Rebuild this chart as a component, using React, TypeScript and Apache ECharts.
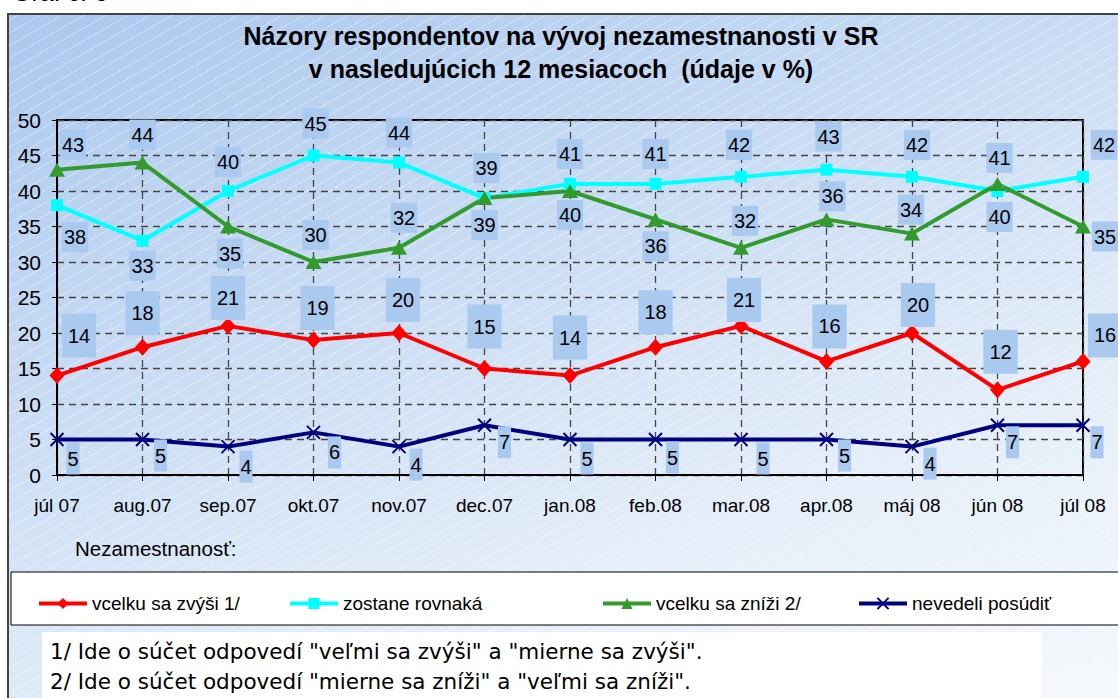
import React, { useEffect, useRef } from 'react';
import * as echarts from 'echarts';

const categories = ['júl 07', 'aug.07', 'sep.07', 'okt.07', 'nov.07', 'dec.07', 'jan.08', 'feb.08', 'mar.08', 'apr.08', 'máj 08', 'jún 08', 'júl 08'];
const seriesNames = ['vcelku sa zvýši 1/', 'zostane rovnaká', 'vcelku sa zníži 2/', 'nevedeli posúdiť'];
const increase = [14, 18, 21, 19, 20, 15, 14, 18, 21, 16, 20, 12, 16];
const same = [38, 33, 40, 45, 44, 39, 41, 41, 42, 43, 42, 40, 42];
const decrease = [43, 44, 35, 30, 32, 39, 40, 36, 32, 36, 34, 41, 35];
const unknown = [5, 5, 4, 6, 4, 7, 5, 5, 5, 5, 4, 7, 7];
const yMin = 0;
const yMax = 50;
const yStep = 5;

const chartLabel = 'Graf č. 6';
const titleLines = ['Názory respondentov na vývoj nezamestnanosti v SR', 'v nasledujúcich 12 mesiacoch  (údaje v %)'];
const subLabel = 'Nezamestnanosť:';
const footnotes = [
  '1/ Ide o súčet odpovedí "veľmi sa zvýši" a "mierne sa zvýši".',
  '2/ Ide o súčet odpovedí "mierne sa zníži" a "veľmi sa zníži".',
];

// label placement (styling), offset from each point
const increaseLabelOffsets = [[22, -40], [0, -34], [0, -28], [4, -32], [4, -33], [0, -42], [0, -38], [0, -35], [3, -26], [3, -35], [6, -28], [3, -38], [22, -26]];
const sameLabelOffsets = [[18, 32], [0, 25], [0, -29], [2, -32], [0, -30], [2, -30], [0, -30], [0, -30], [-2, -32], [2, -33], [5, -32], [2, 26], [21, -32]];
const decreaseLabelOffsets = [[16, -25], [0, -28], [2, 27], [2, -27], [5, -30], [0, 27], [0, 24], [0, 27], [4, -27], [6, -23], [-1, -24], [2, -26], [22, 10]];
const unknownLabelOffsets = [[16, 19], [18, 16], [18, 20], [21, 20], [17, 18], [20, 17], [17, 19], [17, 18], [22, 19], [18, 16], [18, 17], [15, 17], [14, 17]];

const FONT = 'Arial, "Liberation Sans", sans-serif';
const WIDE_FONT = '"DejaVu Sans", Arial, sans-serif';
const LABEL_BG = '#a9c9ef';

function withLabels(values: number[], offsets: number[][]) {
  return values.map((v, i) => ({ value: v, label: { offset: offsets[i] } }));
}

export default function App() {
  const ref = useRef<HTMLDivElement>(null);

  useEffect(() => {
    if (!ref.current) return;
    const chart = echarts.init(ref.current, undefined, { renderer: 'svg' });

    const baseLabel = {
      show: true,
      position: 'inside',
      color: '#000',
      fontSize: 20,
      fontFamily: FONT,
      backgroundColor: LABEL_BG,
    };

    const legendBase = {
      top: 589,
      itemWidth: 48,
      itemHeight: 14,
      lineStyle: { width: 4 },
      textStyle: { fontSize: 19, color: '#000', fontFamily: FONT },
      selectedMode: false,
    };

    chart.setOption({
      animation: false,
      backgroundColor: 'transparent',
      textStyle: { fontFamily: FONT },
      graphic: [
        {
          type: 'text',
          x: 12,
          y: 4,
          style: { text: chartLabel, fontSize: 25, fontFamily: FONT, fill: '#000', verticalAlign: 'bottom' },
          z: 10,
        },
        {
          type: 'rect',
          shape: { x: 11, y: 572, width: 1130, height: 53 },
          style: { fill: '#fff', stroke: '#000', lineWidth: 1 },
          z: -1,
        },
        {
          type: 'rect',
          shape: { x: 42, y: 632, width: 1000, height: 80 },
          style: { fill: '#fff' },
          z: -1,
        },
        {
          type: 'text',
          x: 75,
          y: 548,
          style: { text: subLabel, fontSize: 20.5, fontFamily: FONT, fill: '#000', verticalAlign: 'middle' },
        },
        {
          type: 'text',
          x: 50,
          y: 651,
          style: { text: footnotes[0], fontSize: 21.5, fontFamily: WIDE_FONT, fill: '#000', verticalAlign: 'middle' },
        },
        {
          type: 'text',
          x: 50,
          y: 681,
          style: { text: footnotes[1], fontSize: 21.5, fontFamily: WIDE_FONT, fill: '#000', verticalAlign: 'middle' },
        },
        {
          type: 'text',
          x: 561,
          y: 36,
          style: { text: titleLines[0], fontSize: 25, fontWeight: 'bold', fontFamily: FONT, fill: '#000', align: 'center', verticalAlign: 'middle' },
        },
        {
          type: 'text',
          x: 561,
          y: 69,
          style: { text: titleLines[1], fontSize: 25, fontWeight: 'bold', fontFamily: FONT, fill: '#000', align: 'center', verticalAlign: 'middle' },
        },
      ],
      legend: [
        { ...legendBase, left: 32, data: [seriesNames[0]] },
        { ...legendBase, left: 283, data: [seriesNames[1]] },
        { ...legendBase, left: 596, data: [seriesNames[2]] },
        { ...legendBase, left: 852, data: [seriesNames[3]] },
      ],
      grid: {
        left: 57,
        right: 35,
        top: 120,
        bottom: 223,
        show: true,
        borderColor: '#000',
        borderWidth: 2,
        backgroundColor: 'transparent',
      },
      xAxis: {
        type: 'category',
        data: categories,
        boundaryGap: false,
        axisLine: { show: true, lineStyle: { color: '#000', width: 2 } },
        axisTick: { show: true, length: 6, lineStyle: { color: '#000', width: 1 } },
        axisLabel: { color: '#000', fontSize: 19, margin: 21, fontFamily: FONT },
        splitLine: { show: true, lineStyle: { color: '#444', width: 1.3, type: [7, 5] } },
      },
      yAxis: {
        type: 'value',
        min: yMin,
        max: yMax,
        interval: yStep,
        axisLine: { show: true, lineStyle: { color: '#000', width: 2 } },
        axisTick: { show: true, length: 5, lineStyle: { color: '#000', width: 1 } },
        axisLabel: { color: '#000', fontSize: 21, margin: 16, fontFamily: FONT },
        splitLine: { show: true, lineStyle: { color: '#444', width: 1.3, type: [7, 5] } },
      },
      series: [
        {
          name: seriesNames[0],
          type: 'line',
          data: withLabels(increase, increaseLabelOffsets),
          symbol: 'diamond',
          symbolSize: [15, 17],
          itemStyle: { color: '#ff0000' },
          lineStyle: { color: '#ff0000', width: 4 },
          label: { ...baseLabel, padding: [13, 6, 11, 6] },
          z: 3,
        },
        {
          name: seriesNames[1],
          type: 'line',
          data: withLabels(same, sameLabelOffsets),
          symbol: 'rect',
          symbolSize: 12,
          itemStyle: { color: '#00ffff' },
          lineStyle: { color: '#00ffff', width: 4 },
          label: { ...baseLabel, padding: [6, 2, 4, 2] },
          z: 3,
        },
        {
          name: seriesNames[2],
          type: 'line',
          data: withLabels(decrease, decreaseLabelOffsets),
          symbol: 'triangle',
          symbolSize: [16, 14],
          itemStyle: { color: '#339a2e' },
          lineStyle: { color: '#339a2e', width: 4 },
          label: { ...baseLabel, padding: [6, 2, 4, 2] },
          z: 3,
        },
        {
          name: seriesNames[3],
          type: 'line',
          data: withLabels(unknown, unknownLabelOffsets),
          symbol: 'path://M0,0L10,10M10,0L0,10',
          symbolSize: 13,
          itemStyle: { color: '#000080', borderColor: '#000080', borderWidth: 2 },
          lineStyle: { color: '#000080', width: 4 },
          label: { ...baseLabel, padding: [7, 1, 5, 1] },
          z: 3,
        },
      ],
    });

    return () => chart.dispose();
  }, []);

  return (
    <div style={{ position: 'fixed', left: 0, top: 0, width: 1118, height: 698, background: '#fff', overflow: 'hidden' }}>
      <div
        style={{
          position: 'absolute',
          left: 7,
          top: 13,
          width: 1130,
          height: 700,
          borderLeft: '2px solid #444',
          borderTop: '2px solid #444',
          background:
            'repeating-linear-gradient(-30deg, rgba(255,255,255,0.35) 0px, rgba(255,255,255,0.35) 1px, rgba(255,255,255,0) 1px, rgba(255,255,255,0) 11px), linear-gradient(160deg, #abc8ee 0%, #c8dbf3 35%, #e2ecf8 65%, #f7fafd 100%)',
        }}
      />
      <div ref={ref} style={{ position: 'absolute', left: 0, top: 0, width: 1118, height: 698 }} />
    </div>
  );
}
